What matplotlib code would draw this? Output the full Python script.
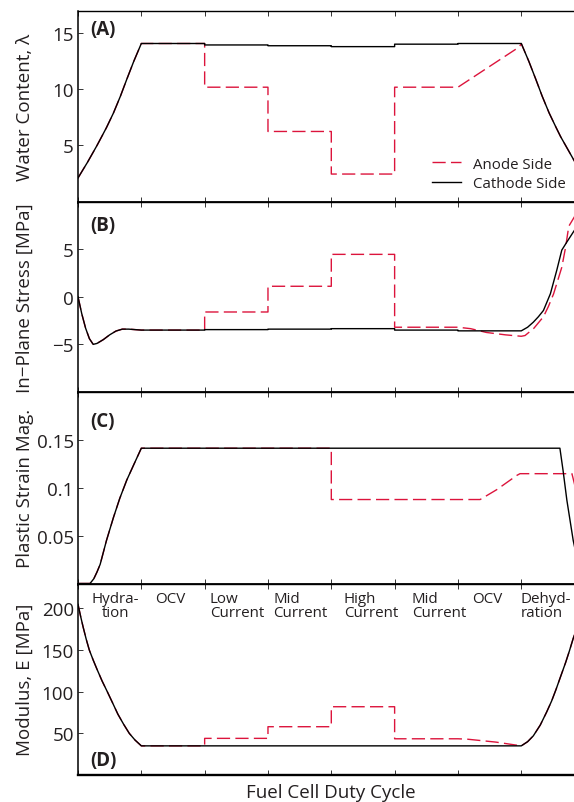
import matplotlib
matplotlib.use('Agg')
import matplotlib.pyplot as plt
import matplotlib.transforms as mtransforms

plt.rcParams['font.family'] = ['Open Sans', 'DejaVu Sans']

# ---------------- data ----------------
stage_labels = ['Hydra-\ntion', 'OCV', 'Low\nCurrent', 'Mid\nCurrent',
                'High\nCurrent', 'Mid\nCurrent', 'OCV', 'Dehyd-\nration']
stage_edges = [0, 1, 2, 3, 4, 5, 6, 7, 8]

# Panel A: water content
A_hyd_x = [0.0, 0.08, 0.15, 0.22, 0.30, 0.38, 0.45, 0.56, 0.67, 0.77, 0.88, 1.0]
A_hyd_y = [2.1, 2.85, 3.5, 4.2, 5.0, 5.85, 6.6, 7.9, 9.4, 10.9, 12.5, 14.1]
A_cath_flat = [14.1, 13.97, 13.9, 13.82, 14.04, 14.1]        # stages 1..6
A_anode_flat = [14.1, 10.2, 6.25, 2.45, 10.2]                # stages 1..5
A_anode_ramp_x = [6.0, 6.97, 7.0]
A_anode_ramp_y = [10.2, 13.8, 14.1]
A_dehyd_x = [7.0, 7.12, 7.23, 7.33, 7.44, 7.55, 7.62, 7.7, 7.78, 7.85, 7.92, 8.0]
A_dehyd_y = [14.1, 12.5, 10.9, 9.4, 7.9, 6.6, 5.8, 5.0, 4.2, 3.5, 2.8, 2.1]

# Panel B: in-plane stress
B_hyd_x = [0, 0.06, 0.12, 0.18, 0.24, 0.30, 0.40, 0.50, 0.60, 0.70, 0.80, 0.90, 1.0]
B_hyd_y = [0, -1.8, -3.3, -4.4, -5.0, -4.9, -4.5, -4.0, -3.6, -3.4, -3.4, -3.45, -3.5]
B_cath_flat = [-3.5, -3.45, -3.4, -3.35, -3.5, -3.58]
B_anode_flat = [-3.5, -1.6, 1.1, 4.45, -3.2]
B_anode_ocv_x = [6.0, 6.2, 6.45, 6.75, 7.0]
B_anode_ocv_y = [-3.2, -3.35, -3.75, -4.0, -4.15]
B_cath_dehyd_x = [7.0, 7.1, 7.19, 7.27, 7.35, 7.46, 7.56, 7.64, 7.72, 7.84, 7.92, 8.0]
B_cath_dehyd_y = [-3.58, -3.2, -2.67, -2.1, -1.44, 0.32, 2.77, 4.9, 5.75, 6.98, 7.7, 8.3]
B_anode_dehyd_x = [7.0, 7.06, 7.2, 7.35, 7.43, 7.51, 7.58, 7.64, 7.7, 7.75, 7.84, 7.92, 8.0]
B_anode_dehyd_y = [-4.15, -4.07, -3.3, -2.1, -1.0, 0.3, 1.8, 3.1, 5.2, 7.4, 8.4, 9.0, 9.5]

# Panel C: plastic strain magnitude
C_hyd_x = [0, 0.19, 0.25, 0.30, 0.35, 0.45, 0.56, 0.66, 0.77, 0.88, 1.0]
C_hyd_y = [0, 0, 0.005, 0.012, 0.020, 0.045, 0.069, 0.089, 0.108, 0.124, 0.1413]
C_cath_plateau = 0.1413
C_cath_drop_x = [7.61, 7.66, 7.72, 7.82, 7.9, 8.0]
C_cath_drop_y = [0.1413, 0.118, 0.087, 0.045, 0.02, 0.0]
C_anode_x = [1.0, 4.0, 4.0, 6.35, 6.61, 6.93, 6.98, 7.8, 7.84, 7.9, 8.0]
C_anode_y = [0.1413, 0.1413, 0.0877, 0.0877, 0.0979, 0.1129, 0.1147, 0.1147, 0.104, 0.085, 0.05]

# Panel D: modulus
D_hyd_x = [0, 0.04, 0.08, 0.13, 0.179, 0.24, 0.3, 0.38, 0.463, 0.55, 0.63, 0.72, 0.81, 0.9, 1.0]
D_hyd_y = [205, 191, 178, 163, 150, 138, 127, 113, 100, 86, 73, 61, 50, 42, 35]
D_cath_flat = [35, 35, 35, 35, 35, 35]
D_anode_flat = [35, 44, 58, 82, 43.5]
D_anode_ocv_x = [6.0, 6.15, 6.6, 7.0]
D_anode_ocv_y = [43.5, 43, 39.5, 35]
D_dehyd_x = [7.0, 7.1, 7.19, 7.3, 7.4, 7.48, 7.55, 7.62, 7.7, 7.76, 7.82, 7.9, 8.0]
D_dehyd_y = [35, 40, 47, 60, 75.5, 89, 103, 118, 135, 149, 164, 181, 205]

ylabels = ['Water Content, λ', 'In\u2212Plane Stress [MPa]', 'Plastic Strain Mag.', 'Modulus, E [MPa]']
panel_tags = ['(A)', '(B)', '(C)', '(D)']
ylims = [(0, 17), (-10, 10), (0, 0.2), (0, 230)]
yticks = [[5, 10, 15], [-5, 0, 5], [0.05, 0.1, 0.15], [50, 100, 150, 200]]
yticklabels = [['5', '10', '15'], ['\u22125', '0', '5'], ['0.05', '0.1', '0.15'],
               ['50', '100', '150', '200']]


def flats(start, values):
    xs, ys = [], []
    for i, v in enumerate(values):
        xs += [stage_edges[start + i], stage_edges[start + i + 1]]
        ys += [v, v]
    return xs, ys


# build series
fx, fy = flats(1, A_cath_flat)
A_cath = (A_hyd_x + fx + A_dehyd_x, A_hyd_y + fy + A_dehyd_y)
fx, fy = flats(1, A_anode_flat)
A_anod = (A_hyd_x + fx + A_anode_ramp_x + A_dehyd_x, A_hyd_y + fy + A_anode_ramp_y + A_dehyd_y)

fx, fy = flats(1, B_cath_flat)
B_cath = (B_hyd_x + fx + B_cath_dehyd_x, B_hyd_y + fy + B_cath_dehyd_y)
fx, fy = flats(1, B_anode_flat)
B_anod = (B_hyd_x + fx + B_anode_ocv_x + B_anode_dehyd_x, B_hyd_y + fy + B_anode_ocv_y + B_anode_dehyd_y)

C_cath = (C_hyd_x + [1.0] + C_cath_drop_x, C_hyd_y + [C_cath_plateau] + C_cath_drop_y)
C_anod = (C_hyd_x + C_anode_x, C_hyd_y + C_anode_y)

fx, fy = flats(1, D_cath_flat)
D_cath = (D_hyd_x + fx + D_dehyd_x, D_hyd_y + fy + D_dehyd_y)
fx, fy = flats(1, D_anode_flat)
D_anod = (D_hyd_x + fx + D_anode_ocv_x + D_dehyd_x, D_hyd_y + fy + D_anode_ocv_y + D_dehyd_y)

series = [(A_anod, A_cath), (B_anod, B_cath), (C_anod, C_cath), (D_anod, D_cath)]

# ---------------- layout ----------------
W_PX, H_PX = 574, 803
fig = plt.figure(figsize=(W_PX / 100, H_PX / 100), dpi=100)
left_px, width_px = 78, 506.6
edges_px = [12, 202.5, 393, 584.5, 776]

RED = '#DC143C'
TXT = '#231F20'
lw_red = 1.0
dash = (0, (9.5, 3.8))

axes = []
for i in range(4):
    top, bot = edges_px[i], edges_px[i + 1]
    ax = fig.add_axes([left_px / W_PX, 1 - bot / H_PX, width_px / W_PX, (bot - top) / H_PX])
    axes.append(ax)
    anod, cath = series[i]
    ax.plot(anod[0], anod[1], color=RED, lw=lw_red, linestyle=dash, label='Anode Side', zorder=2)
    ax.plot(cath[0], cath[1], color='black', lw=1.0, label='Cathode Side', zorder=3)
    ax.set_xlim(0, 8)
    ax.set_ylim(*ylims[i])
    ax.set_xticks(stage_edges)
    ax.set_yticks(yticks[i])
    ax.set_yticklabels(yticklabels[i])
    ax.tick_params(axis='x', direction='in', top=True, bottom=True,
                   labelbottom=False, length=3.6, width=0.7, color='#333333')
    ax.tick_params(axis='y', direction='in', left=True, right=False,
                   length=3.6, width=0.7, labelsize=13.5, pad=3,
                   labelcolor=TXT, color='#333333')
    ax.spines['right'].set_visible(False)
    ax.spines['left'].set_linewidth(1.1)
    ax.spines['top'].set_linewidth(1.0)
    ax.spines['bottom'].set_linewidth(2.0 if i < 3 else 1.7)
    fig.text(25 / W_PX, 1 - (top + bot) / 2 / H_PX, ylabels[i], rotation=90,
             ha='center', va='center', fontsize=13.5, color=TXT)

tag_pos = [(0.024, 0.908), (0.024, 0.877), (0.024, 0.85), (0.024, 0.079)]
for ax, tag, (tx, ty) in zip(axes, panel_tags, tag_pos):
    ax.text(tx, ty, tag, transform=ax.transAxes, ha='left', va='center',
            fontsize=13.5, fontweight='bold', color=TXT)

# legend in panel A
axes[0].legend(loc='lower right', bbox_to_anchor=(0.962, 0.055), frameon=False,
               fontsize=10.8, handlelength=1.9, handletextpad=0.8,
               labelspacing=0.3, borderpad=0, borderaxespad=0,
               labelcolor=TXT)

# stage labels in panel D
label_x = [0.216, 1.216, 2.08, 3.08, 4.2, 5.27, 6.22, 6.99]
label_align = ['center', 'left', 'left', 'left', 'left', 'left', 'left', 'left']
trans = mtransforms.blended_transform_factory(axes[3].transData, axes[3].transAxes)
for x, lab, al in zip(label_x, stage_labels, label_align):
    axes[3].text(x, 0.962, lab, transform=trans, ha='left', va='top',
                 multialignment=al, fontsize=10.9, linespacing=0.95, color=TXT)

fig.text(331 / W_PX, 1 - 793 / H_PX, 'Fuel Cell Duty Cycle', ha='center', va='center',
         fontsize=13.5, color=TXT)

fig.savefig('out.png', dpi=100)
